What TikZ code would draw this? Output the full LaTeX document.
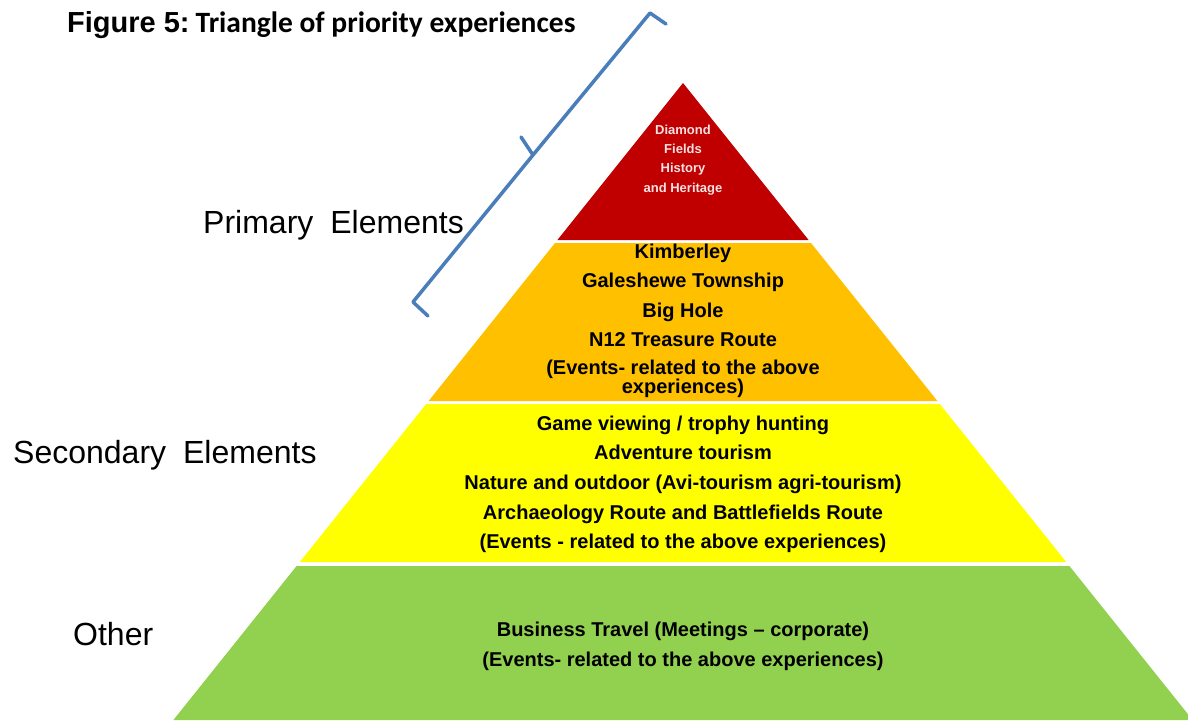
\documentclass[tikz,border=0pt]{standalone}
\usepackage{fontspec}
\setmainfont{Liberation Sans}
\newfontfamily\calib{Carlito}
\definecolor{pred}{RGB}{192,0,0}
\definecolor{porange}{RGB}{255,192,0}
\definecolor{pyellow}{RGB}{255,255,0}
\definecolor{pgreen}{RGB}{146,208,80}
\definecolor{redtext}{RGB}{245,225,225}
\definecolor{braceblue}{RGB}{74,126,187}
\newcommand{\wideword}{\hspace{17pt}}
\begin{document}
\begin{tikzpicture}[x=1pt,y=-1pt,
  sidelbl/.style={font=\fontsize{32}{36}\selectfont, anchor=base west, inner sep=0pt},
  ptxt/.style={font=\bfseries\fontsize{20}{24}\selectfont, anchor=base, inner sep=0pt},
  rtxt/.style={font=\bfseries\fontsize{13}{15}\selectfont, text=redtext, anchor=base, inner sep=0pt},
  bracestyle/.style={draw=braceblue, line width=3.5pt, line cap=round, line join=round}]
\useasboundingbox (0,0) rectangle (1188,720);
\clip (0,0) rectangle (1188,720);
% pyramid bands
\fill[pred] (683,83) -- (808.6,240) -- (557.4,240) -- cycle;
\fill[porange] (555,243) -- (811,243) -- (937.4,401) -- (428.6,401) -- cycle;
\fill[pyellow] (426.2,404) -- (939.8,404) -- (1066.2,562) -- (299.8,562) -- cycle;
\fill[pgreen] (296.6,566) -- (1069.4,566) -- (1192.6,720) -- (173.4,720) -- cycle;
% title
\node[anchor=base west, inner sep=0pt] (title) at (67,32)
  {\bfseries\fontsize{29}{32}\selectfont Figure 5:\hspace{6pt}{\calib\fontsize{29.5}{33}\selectfont Triangle of priority experiences}};
% side labels
\node[sidelbl] (primary) at (203,233) {Primary\wideword Elements};
\node[sidelbl] (secondary) at (13,463) {Secondary\wideword Elements};
\node[sidelbl] (other) at (73,645) {Other};
% red text
\node[rtxt] (r1) at (683,134.5) {Diamond};
\node[rtxt] (r2) at (683,153.5) {Fields};
\node[rtxt] (r3) at (683,172.5) {History};
\node[rtxt] (r4) at (683,192.5) {and Heritage};
% orange text
\node[ptxt] (o1) at (683,258) {Kimberley};
\node[ptxt] (o2) at (683,287) {Galeshewe Township};
\node[ptxt] (o3) at (683,317) {Big Hole};
\node[ptxt] (o4) at (683,346) {N12 Treasure Route};
\node[ptxt, align=center, font=\bfseries\fontsize{20}{17}\selectfont, anchor=south] (o5) at (683,398)
  {(Events- related to the above\\experiences)};
% yellow text
\node[ptxt] (y1) at (683,430.5) {Game viewing / trophy hunting};
\node[ptxt] (y2) at (683,459.5) {Adventure tourism};
\node[ptxt] (y3) at (683,489.5) {Nature and outdoor (Avi-tourism agri-tourism)};
\node[ptxt] (y4) at (683,519.5) {Archaeology Route and Battlefields Route};
\node[ptxt] (y5) at (683,548.5) {(Events - related to the above experiences)};
% green text
\node[ptxt] (g1) at (683,636.5) {Business Travel (Meetings – corporate)};
\node[ptxt] (g2) at (683,666.5) {(Events- related to the above experiences)};
% brace
\coordinate (bt) at (666,24);
\coordinate (bc1) at (650,13);
\coordinate (bm) at (533,155);
\coordinate (bs) at (521,137);
\coordinate (bc2) at (413,302);
\coordinate (bb) at (428,316);
\draw[bracestyle] (bt) -- (bc1) -- (bm) -- (bc2) -- (bb);
\draw[bracestyle] (bm) -- (bs);
\end{tikzpicture}
\end{document}
